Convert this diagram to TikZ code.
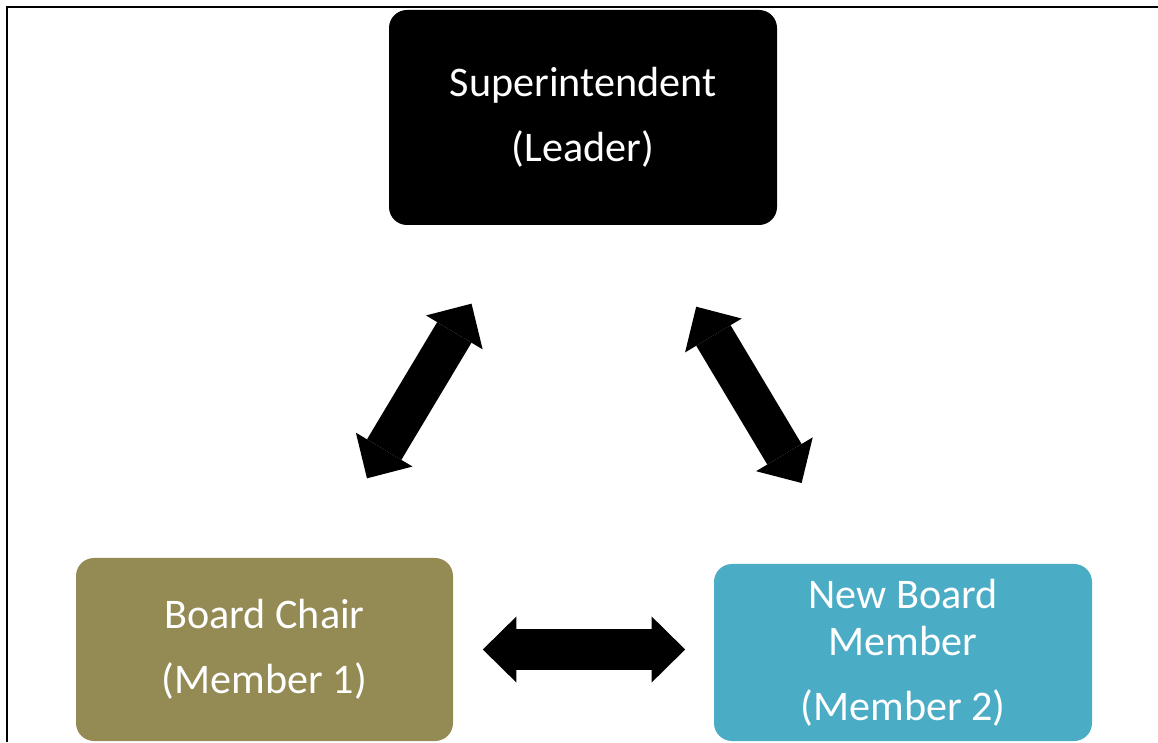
\documentclass[tikz,border=0pt]{standalone}
\usepackage{fontspec}
\setmainfont{Carlito}
\usetikzlibrary{arrows.meta}
\definecolor{chairolive}{HTML}{948A54}
\definecolor{memberteal}{HTML}{4BACC6}

\begin{document}
\begin{tikzpicture}
% Box and arrow style
\tikzset{
    rolebox/.style={rounded corners=0.36cm, inner sep=0pt, text=white,
        align=center, font=\fontsize{24}{27}\selectfont},
    fatarrow/.style={line width=0.8cm,
        {Triangle[width=1.32cm, length=0.67cm, line width=0pt]}-{Triangle[width=1.32cm, length=0.67cm, line width=0pt]}}
}
\useasboundingbox (0, 0) rectangle (23.16, 14.84);

% Nodes
\node[rolebox, fill=black, minimum width=7.76cm, minimum height=4.3cm]
    (SUP) at (11.66, 12.49) {Superintendent\\[10pt](Leader)};
\node[rolebox, fill=chairolive, minimum width=7.54cm, minimum height=3.66cm]
    (CHAIR) at (5.29, 1.85) {Board Chair\\[10pt](Member 1)};
\node[rolebox, fill=memberteal, minimum width=7.56cm, minimum height=3.54cm]
    (NEW) at (18.06, 1.79) {New Board\\Member\\[9.7pt](Member 2)};

% Connections
\draw[fatarrow, shorten <=4.34cm, shorten >=3.99cm] (SUP.center) -- (CHAIR.center);
\draw[fatarrow, shorten <=4.41cm, shorten >=3.95cm] (SUP.center) -- (NEW.center);
\draw[fatarrow, shorten <=0.59cm, shorten >=0.57cm] (CHAIR.east) -- (CHAIR.east -| NEW.west);

% Frame
\draw[line width=0.04cm] (0.15, 0) -- (0.15, 14.69) -- (23.16, 14.69);
\end{tikzpicture}
\end{document}
